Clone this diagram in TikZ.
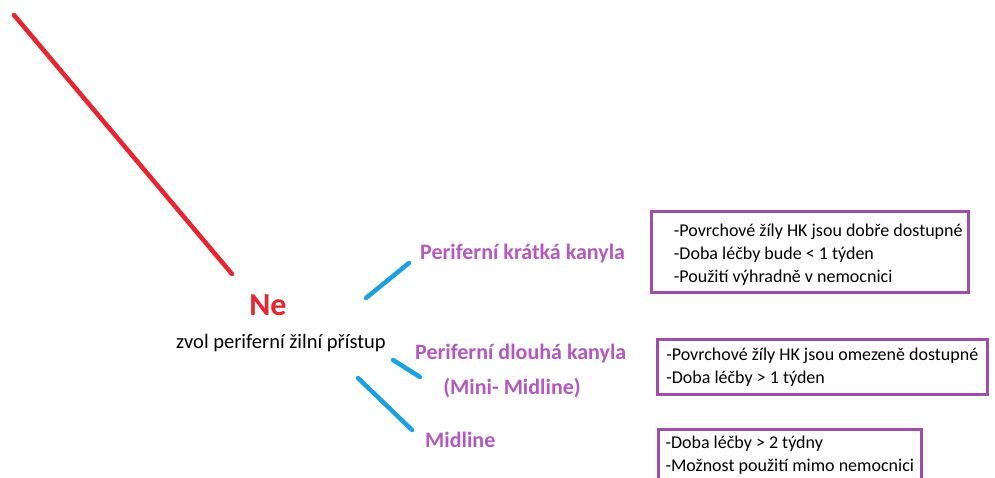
\documentclass[tikz,border=0pt]{standalone}
\usepackage{fontspec}
\setmainfont{Carlito}
\usetikzlibrary{positioning}
\definecolor{nered}{RGB}{232,36,46}
\definecolor{cablue}{RGB}{27,161,226}
\definecolor{kapurple}{RGB}{178,88,190}
\definecolor{boxpurple}{RGB}{158,78,170}
\tikzset{
    redline/.style={nered, line width=4.5pt, line cap=round},
    blueline/.style={cablue, line width=4.5pt, line cap=round},
    kanyla/.style={kapurple, font=\fontsize{22}{26}\selectfont\bfseries, inner sep=0pt},
    infobox/.style={draw=boxpurple, line width=2.6pt, align=left, anchor=north west,
        font=\fontsize{18}{22.8}\selectfont, inner sep=0pt}
}
\begin{document}
\begin{tikzpicture}[x=1pt,y=-1pt]
    \useasboundingbox (0,0) rectangle (995,477);
    \clip (0,0) rectangle (995,477);
    % red branch
    \coordinate (r1) at (14,15);
    \coordinate (r2) at (232,274);
    \draw[redline] (r1) -- (r2);
    \node[nered, font=\fontsize{32}{36}\selectfont\bfseries, inner sep=0pt] (ne) at (268,305) {Ne};
    \node[font=\fontsize{20.5}{24}\selectfont, inner sep=0pt] (zvol) at (281,343) {zvol periferní žilní přístup};
    % options
    \node[kanyla, anchor=west] (kratka) at (420,254) {Periferní krátká kanyla};
    \node[kanyla, anchor=west] (dlouha) at (415,354) {Periferní dlouhá kanyla};
    \node[kanyla] (mini) at (512,388) {(Mini- Midline)};
    \node[kanyla, anchor=west] (midline) at (425,440) {Midline};
    % blue strokes
    \coordinate (b1s) at (366,298);
    \coordinate (b1e) at (409,263);
    \coordinate (b2s) at (393,360);
    \coordinate (b2e) at (420,377);
    \coordinate (b3s) at (358,378);
    \coordinate (b3e) at (412,430);
    \draw[blueline] (b1s) -- (b1e);
    \draw[blueline] (b2s) -- (b2e);
    \draw[blueline] (b3s) -- (b3e);
    % boxes
    \node[infobox, minimum width=317pt, minimum height=81pt] (box1) at (650,210)
        {\rule{0pt}{18pt}\hspace*{17pt}-Povrchové žíly HK jsou dobře dostupné\\
         \hspace*{17pt}-Doba léčby bude < 1 týden\\
         \hspace*{17pt}-Použití výhradně v nemocnici};
    \node[infobox, minimum width=330pt, minimum height=55pt] (box2) at (656,338)
        {-Povrchové žíly HK jsou omezeně dostupné\\
         -Doba léčby > 1 týden};
    \node[infobox, minimum width=263pt, minimum height=52pt] (box3) at (657,428)
        {-Doba léčby > 2 týdny\\
         -Možnost použití mimo nemocnici};
\end{tikzpicture}
\end{document}
